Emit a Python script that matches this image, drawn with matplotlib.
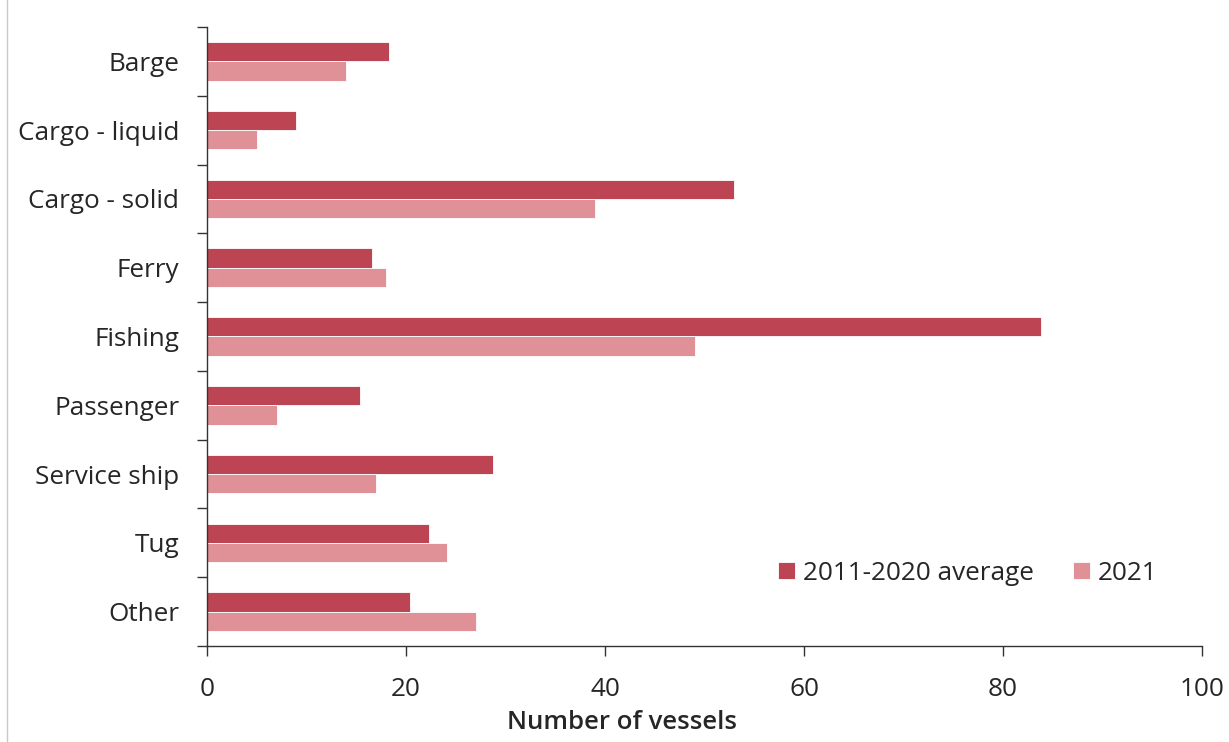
import numpy as np
import matplotlib
matplotlib.use("Agg")
from matplotlib import pyplot as plt
from matplotlib.lines import Line2D

plt.rcParams['font.family'] = ['Open Sans', 'DejaVu Sans']

# data
categories = ['Barge', 'Cargo - liquid', 'Cargo - solid', 'Ferry', 'Fishing',
              'Passenger', 'Service ship', 'Tug', 'Other']
avg_2011_2020 = [18.3, 8.9, 53.0, 16.6, 83.8, 15.4, 28.7, 22.3, 20.4]
year_2021 = [14.0, 5.0, 39.0, 18.0, 49.0, 7.0, 17.0, 24.1, 27.0]
series_names = ['2011-2020 average', '2021']

c_avg = '#BD4452'
c_2021 = '#E09097'
txt = '#262626'

fig = plt.figure(figsize=(12.29, 7.42), dpi=100)
ax = fig.add_axes([207 / 1229, 1 - 646 / 742, (1202 - 207) / 1229, (646 - 27) / 742])

y = np.arange(len(categories))
h = 0.28
ax.barh(y - h / 2, avg_2011_2020, height=h, color=c_avg, edgecolor='white',
        linewidth=0.6, label=series_names[0])
ax.barh(y + h / 2, year_2021, height=h, color=c_2021, edgecolor='white',
        linewidth=0.6, label=series_names[1])

ax.set_xlim(0, 100)
ax.set_ylim(len(categories) - 0.5, -0.5)
ax.set_xticks(np.arange(0, 101, 20))

ax.set_yticks(y)
ax.set_yticklabels(categories)
ax.set_yticks(np.arange(-0.5, len(categories)), minor=True)
ax.tick_params(axis='y', which='major', length=0, pad=20, labelsize=18.8, labelcolor=txt)
ax.tick_params(axis='y', which='minor', length=7.5, width=1, color='#333333', direction='out')
ax.tick_params(axis='x', length=7.5, width=1, color='#333333', pad=15, labelsize=18.8,
               labelcolor=txt)

for s in ['top', 'right']:
    ax.spines[s].set_visible(False)
for s in ['left', 'bottom']:
    ax.spines[s].set_color('#333333')
    ax.spines[s].set_linewidth(1)

# the axis title sits a bit left of the axis centre in the reference
ax.set_xlabel('Number of vessels', fontsize=18.5, fontweight='semibold', color=txt)
ax.xaxis.set_label_coords((622 - 207) / 995, -(710 - 646) / 619)

fig.legend(loc='center', bbox_to_anchor=(968 / 1229, 1 - 573 / 742), ncol=2,
           frameon=False, fontsize=18.8, handlelength=0.65, handleheight=0.65,
           handletextpad=0.3, columnspacing=1.5, labelcolor=txt)

# thin grey border line on the left edge of the image
fig.add_artist(Line2D([7 / 1229, 7 / 1229], [0, 1], transform=fig.transFigure,
                      color='#C8C8C8', linewidth=1))

fig.savefig('out.png', dpi=100)
